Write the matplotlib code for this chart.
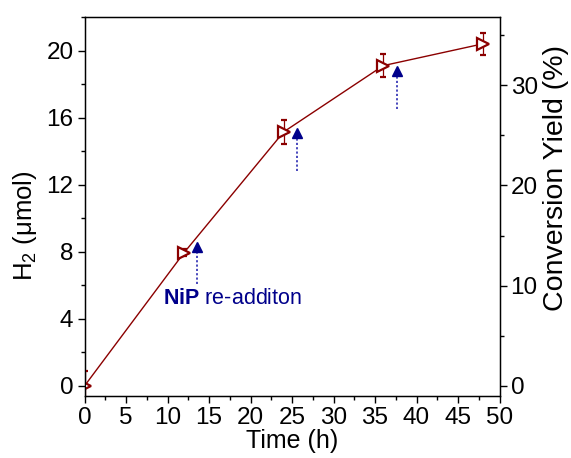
import matplotlib
matplotlib.use("Agg")
import matplotlib.pyplot as plt
from matplotlib.ticker import MultipleLocator

plt.rcParams['font.family'] = ['Liberation Sans', 'DejaVu Sans']
plt.rcParams['mathtext.fontset'] = 'custom'
plt.rcParams['mathtext.rm'] = 'Liberation Sans'
plt.rcParams['mathtext.it'] = 'Liberation Sans:italic'
plt.rcParams['mathtext.bf'] = 'Liberation Sans:bold'
plt.rcParams['mathtext.default'] = 'regular'

# H2 evolution over time
time_h = [0, 12, 24, 36, 48]
h2_umol = [0.0, 7.95, 15.15, 19.1, 20.4]
h2_err = [0.9, 0.2, 0.7, 0.7, 0.65]

# NiP re-addition events (arrow x, arrow tip, arrow tail)
readd_time = [13.6, 25.6, 37.6]
readd_tip = [8.3, 15.1, 18.8]
readd_tail = [6.1, 12.8, 16.5]

x_ticks = [0, 5, 10, 15, 20, 25, 30, 35, 40, 45, 50]
y_ticks = [0, 4, 8, 12, 16, 20]
y2_ticks = [0, 10, 20, 30]

red = '#8B0000'
navy = '#00008B'

fig = plt.figure(figsize=(5.71, 4.58), dpi=100)
ax = fig.add_axes([0.148, 0.1354, 0.7268, 0.8275])

ax.errorbar(time_h, h2_umol, yerr=h2_err, color=red, lw=1.0,
            marker='>', ms=8, mfc='white', mec=red, mew=1.6,
            ecolor=red, elinewidth=0.9, capsize=2.5, capthick=0.9, zorder=3)

for t, tip, tail in zip(readd_time, readd_tip, readd_tail):
    ax.plot([t, t], [tail, tip - 0.3], color='#3a3ab8', lw=1.3,
            ls=(0, (1.2, 1.2)), zorder=2)
ax.plot(readd_time, readd_tip, ls='none', marker='^', ms=6.5,
        color=navy, zorder=4)

ax.text(9.4, 5.2, r'$\mathbf{NiP}$ re-additon', color=navy, fontsize=15.5,
        ha='left', va='center')

ax.set_xlim(0, 50)
ax.set_ylim(-0.6, 22.0)
ax.set_xticks(x_ticks)
ax.set_yticks(y_ticks)
ax.xaxis.set_minor_locator(MultipleLocator(2.5))
ax.yaxis.set_minor_locator(MultipleLocator(2))
ax.tick_params(which='major', direction='out', length=5, width=1,
               labelsize=17.5, top=False, right=False, pad=3)
ax.tick_params(which='minor', direction='out', length=3, width=1,
               top=False, right=False)
ax.set_xlabel('Time (h)', fontsize=18, labelpad=0)
ax.set_ylabel('H$_2$ (μmol)', fontsize=18.5)
ax.yaxis.set_label_coords(-0.11, 0.45)
for s in ax.spines.values():
    s.set_linewidth(1.0)

ax2 = ax.twinx()
ax2.set_ylim(-1.0, 36.8)
ax2.set_yticks(y2_ticks)
ax2.yaxis.set_minor_locator(MultipleLocator(5))
ax2.tick_params(which='major', direction='out', length=5, width=1,
                labelsize=17.5, pad=3)
ax2.tick_params(which='minor', direction='out', length=3, width=1)
ax2.set_ylabel('Conversion Yield (%)', fontsize=20.5)
ax2.yaxis.set_label_coords(1.104, 0.575)

fig.savefig('out.png', dpi=100)
